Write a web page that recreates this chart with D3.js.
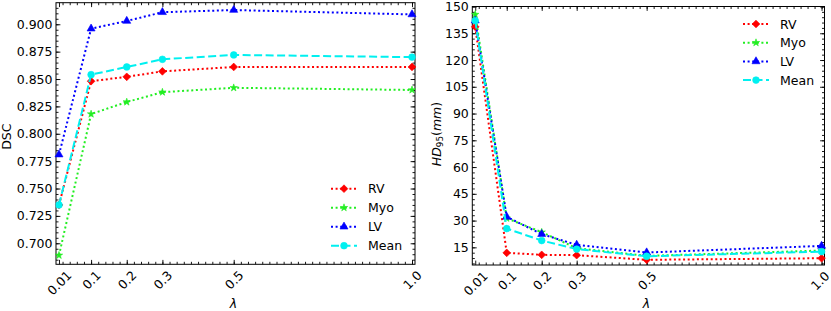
<!DOCTYPE html>
<html><head><meta charset="utf-8">
<script src="https://cdn.jsdelivr.net/npm/d3@7"></script>
<style>body{margin:0;background:#fff} svg{display:block} text{font-family:"DejaVu Sans",sans-serif;fill:#000}</style>
</head><body><svg id="c" width="831" height="311"></svg>
<script>
// ---- data ----
const lambdas = [0.01, 0.1, 0.2, 0.3, 0.5, 1.0];
const xTickLabels = ["0.01", "0.1", "0.2", "0.3", "0.5", "1.0"];
const seriesNames = ["RV", "Myo", "LV", "Mean"];
const dscRV   = [0.735, 0.848, 0.852, 0.857, 0.861, 0.861];
const dscMyo  = [0.689, 0.818, 0.829, 0.838, 0.842, 0.840];
const dscLV   = [0.781, 0.896, 0.903, 0.911, 0.913, 0.909];
const dscMean = [0.735, 0.854, 0.861, 0.868, 0.872, 0.870];
const hdRV    = [138.6, 11.9, 10.8, 10.6, 8.0, 8.9];
const hdMyo   = [145.5, 31.3, 23.5, 14.5, 10.2, 13.2];
const hdLV    = [142.1, 32.1, 22.4, 16.4, 12.1, 15.8];
const hdMean  = [142.1, 25.5, 18.8, 14.0, 10.0, 12.6];
const dscTicks = [0.700, 0.725, 0.750, 0.775, 0.800, 0.825, 0.850, 0.875, 0.900];
const hdTicks  = [15, 30, 45, 60, 75, 90, 105, 120, 135, 150];

// ---- styles ----
const styles = {
  RV:   {color: "#ff0000", dash: "2,2.6", sym: "diamond"},
  Myo:  {color: "#22ee22", dash: "2,2.6", sym: "star"},
  LV:   {color: "#0000ff", dash: "2,2.6", sym: "triangle"},
  Mean: {color: "#00f0f0", dash: "8,3.5", sym: "circle"}
};
const FS = 12.5;
const W = 831;
const svg = d3.select("#c");

function symbolPath(kind) {
  if (kind === "diamond") return d3.symbol(d3.symbolSquare, 30)();
  if (kind === "star") return d3.symbol(d3.symbolStar, 17)();
  if (kind === "triangle") return d3.symbol(d3.symbolTriangle, 28)();
  return d3.symbol(d3.symbolCircle, 36)();
}
function drawMarker(g, kind, x, y, color) {
  const p = g.append("path").attr("d", symbolPath(kind)).attr("fill", color).attr("stroke", color).attr("stroke-width", 0.6);
  if (kind === "diamond") p.attr("transform", `translate(${x},${y}) rotate(45)`);
  else p.attr("transform", `translate(${x},${y})`);
}

function panel(opt) {
  const {x0, x1, y0, y1, yDomain, yTicks, yMinorStep, yFmt, series, legend} = opt;
  const x = d3.scaleLinear().domain([0.0016, 1.0084]).range([x0, x1]);
  const y = d3.scaleLinear().domain(yDomain).range([y1, y0]);
  const g = svg.append("g");
  const xMinor = d3.range(0, 51).map(i => i * 0.02).filter(v => v >= x.domain()[0] && v <= x.domain()[1]);
  const yMinor = d3.range(Math.ceil(yDomain[0] / yMinorStep - 1e-9), Math.floor(yDomain[1] / yMinorStep + 1e-9) + 1).map(i => i * yMinorStep);
  const MJ = 4.4, MN = 2.5;
  const ax = (sel) => { sel.select(".domain").remove(); sel.selectAll("line").attr("stroke", "#000").attr("stroke-width", 0.9); };

  // minor ticks
  g.append("g").attr("transform", `translate(0,${y1})`).call(d3.axisBottom(x).tickValues(xMinor).tickSize(-MN).tickFormat("")).call(ax);
  g.append("g").attr("transform", `translate(0,${y0})`).call(d3.axisTop(x).tickValues(xMinor).tickSize(-MN).tickFormat("")).call(ax);
  g.append("g").attr("transform", `translate(${x0},0)`).call(d3.axisLeft(y).tickValues(yMinor).tickSize(-MN).tickFormat("")).call(ax);
  g.append("g").attr("transform", `translate(${x1},0)`).call(d3.axisRight(y).tickValues(yMinor).tickSize(-MN).tickFormat("")).call(ax);
  // major ticks
  const bx = g.append("g").attr("transform", `translate(0,${y1})`)
    .call(d3.axisBottom(x).tickValues(lambdas).tickSize(-MJ).tickFormat((d, i) => xTickLabels[i])).call(ax);
  bx.selectAll("text").each(function (d) {
    const t = d3.select(this);
    t.attr("font-size", FS).attr("font-family", "DejaVu Sans").attr("fill", "#000");
    const w = this.getComputedTextLength();
    const half = (w + FS * 0.75) * 0.7071 / 2;
    // keep the rotated label inside the picture
    const over = Math.max(0, x(d) + half + 1 - W);
    t.attr("y", null).attr("dy", "0.35em").attr("text-anchor", "middle")
      .attr("transform", `translate(${-over},${5.5 + half}) rotate(-45)`);
  });
  g.append("g").attr("transform", `translate(0,${y0})`).call(d3.axisTop(x).tickValues(lambdas).tickSize(-MJ).tickFormat("")).call(ax);
  const ly = g.append("g").attr("transform", `translate(${x0},0)`)
    .call(d3.axisLeft(y).tickValues(yTicks).tickSize(-MJ).tickPadding(3.5).tickFormat(yFmt)).call(ax);
  ly.selectAll("text").attr("font-size", FS).attr("font-family", "DejaVu Sans").attr("fill", "#000");
  g.append("g").attr("transform", `translate(${x1},0)`).call(d3.axisRight(y).tickValues(yTicks).tickSize(-MJ).tickFormat("")).call(ax);

  // frame
  g.append("rect").attr("x", x0).attr("y", y0).attr("width", x1 - x0).attr("height", y1 - y0)
    .attr("fill", "none").attr("stroke", "#000").attr("stroke-width", 1);

  // series
  const line = d3.line().x((d, i) => x(lambdas[i])).y(d => y(d));
  series.forEach((vals, si) => {
    const st = styles[seriesNames[si]];
    g.append("path").datum(vals).attr("d", line).attr("fill", "none")
      .attr("stroke", st.color).attr("stroke-width", 2).attr("stroke-dasharray", st.dash);
    vals.forEach((v, i) => drawMarker(g, st.sym, x(lambdas[i]), y(v), st.color));
  });

  // legend
  seriesNames.forEach((n, i) => {
    const st = styles[n];
    const yy = legend.y + i * legend.dy;
    g.append("line").attr("x1", legend.x).attr("x2", legend.x + 26).attr("y1", yy).attr("y2", yy)
      .attr("stroke", st.color).attr("stroke-width", 2).attr("stroke-dasharray", st.dash);
    drawMarker(g, st.sym, legend.x + 13, yy, st.color);
    g.append("text").attr("x", legend.x + 37).attr("y", yy).attr("dy", "0.36em")
      .attr("font-size", FS).text(n);
  });

  // x label
  g.append("text").attr("x", (x0 + x1) / 2 - 2).attr("y", 308).attr("text-anchor", "middle")
    .attr("font-size", FS).attr("font-style", "italic").text("λ");
  return g;
}

const gL = panel({
  x0: 56, x1: 415, y0: 2.7, y1: 264.3,
  yDomain: [0.6808, 0.9197], yTicks: dscTicks, yMinorStep: 0.005, yFmt: d3.format(".3f"),
  series: [dscRV, dscMyo, dscLV, dscMean],
  legend: {x: 331, y: 188.7, dy: 19}
});
gL.append("text").attr("transform", "translate(11,136.7) rotate(-90)").attr("text-anchor", "middle")
  .attr("font-size", FS).text("DSC");

const gR = panel({
  x0: 472.3, x1: 824.5, y0: 6.5, y1: 265,
  yDomain: [5.1, 150], yTicks: hdTicks, yMinorStep: 3, yFmt: d3.format("d"),
  series: [hdRV, hdMyo, hdLV, hdMean],
  legend: {x: 743, y: 24, dy: 18.7}
});
const yl = gR.append("text").attr("transform", "translate(440.5,134) rotate(-90)").attr("text-anchor", "middle")
  .attr("font-size", FS);
yl.append("tspan").attr("font-style", "italic").text("HD");
yl.append("tspan").attr("font-size", FS * 0.7).attr("dy", 2.5).text("95");
yl.append("tspan").attr("dy", -2.5).text("(");
yl.append("tspan").attr("font-style", "italic").text("mm");
yl.append("tspan").text(")");
</script></body></html>
